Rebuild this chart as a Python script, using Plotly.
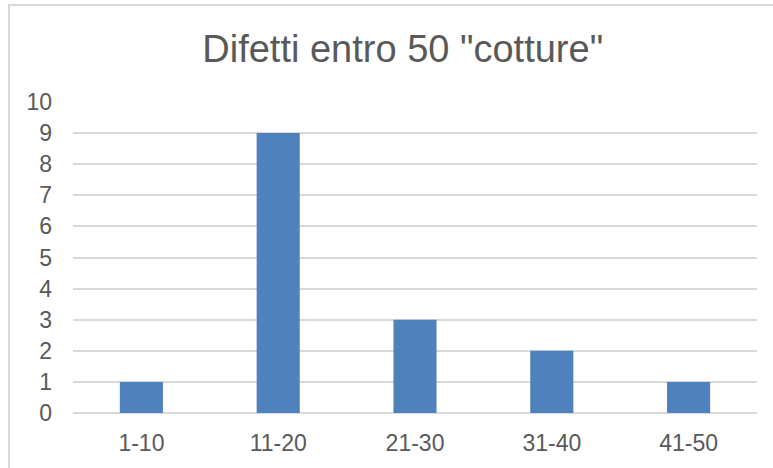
import plotly.graph_objects as go

categorie = ["1-10", "11-20", "21-30", "31-40", "41-50"]
difetti = [1, 9, 3, 2, 1]
tick_y = list(range(0, 11))

TESTO = "#595959"
GRIGLIA = "#d9d9d9"

fig = go.Figure(
    data=[
        go.Bar(
            x=categorie,
            y=difetti,
            marker_color="#4f81bd",
            marker_line_width=0,
            hovertemplate="%{x}<br>%{y}<extra></extra>",
        )
    ]
)

fig.update_layout(
    width=773,
    height=468,
    paper_bgcolor="white",
    plot_bgcolor="white",
    font={"family": "Liberation Sans, Arial, sans-serif", "color": TESTO, "size": 23},
    title={
        "text": 'Difetti entro 50 "cotture"',
        "x": 0.521,
        "xanchor": "center",
        "y": 0.897,
        "yanchor": "middle",
        "font": {"size": 38, "color": TESTO},
    },
    margin={"l": 73, "r": 16, "t": 102, "b": 55},
    bargap=0.685,
    showlegend=False,
    # cornice del grafico (tagliata a destra e in basso come nell'originale)
    shapes=[
        dict(
            type="rect", xref="paper", yref="paper",
            x0=-0.0936, x1=1.1, y0=-0.3, y1=1.312,
            line={"color": GRIGLIA, "width": 2}, layer="below",
        )
    ],
)
fig.update_xaxes(
    showgrid=False,
    showline=False,
    ticks="",
    tickfont={"size": 23, "color": TESTO},
    ticklabelstandoff=14,
)
fig.update_yaxes(
    range=[0, 10],
    tickvals=tick_y,
    showgrid=True,
    gridcolor=GRIGLIA,
    gridwidth=1.5,
    zeroline=True,
    zerolinecolor=GRIGLIA,
    zerolinewidth=1.5,
    showline=False,
    ticks="",
    ticklabelstandoff=20,
    tickfont={"size": 23, "color": TESTO},
)

# niente margine della pagina: il grafico parte dall'angolo in alto a sinistra
fig.write_html(
    "out.html",
    config={"displayModeBar": False},
    post_script="document.body.style.margin = '0';",
)
